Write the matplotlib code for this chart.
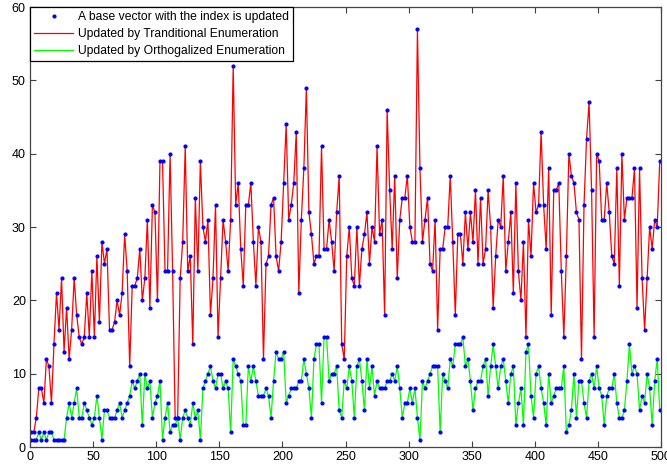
import numpy as np
import matplotlib
matplotlib.use("Agg")
import matplotlib.pyplot as plt
from matplotlib.lines import Line2D

plt.rcParams['font.family'] = ['Liberation Sans', 'DejaVu Sans']

# number of updates per step (x = 1, 3, 5, ..., 499)
traditional = [
    2, 2, 4, 8, 8, 6, 12, 11, 6, 14, 21, 16, 23, 13, 19, 12, 16, 23, 18, 15,
    14, 15, 21, 15, 24, 15, 26, 17, 28, 25, 27, 16,
    16, 17, 20, 18, 21, 29, 24, 11, 22, 22, 23, 27, 20, 23, 31, 19, 33, 32,
    20, 39, 39, 24, 24, 40, 24, 4, 4, 23, 28, 41, 24,
    26, 14, 34, 24, 39, 30, 28, 31, 18, 23, 33, 15, 23, 31, 28, 24, 31, 52,
    33, 36, 27, 22, 33, 33, 36, 28, 22, 30, 28, 12, 25,
    26, 33, 34, 26, 24, 28, 36, 44, 31, 33, 36, 43, 21, 31, 38, 49, 32, 29,
    25, 26, 26, 41, 27, 27, 31, 28, 24, 32, 37, 14, 12,
    26, 30, 23, 22, 30, 22, 27, 29, 32, 25, 30, 28, 41, 29, 31, 18, 46, 35,
    27, 37, 23, 31, 34, 34, 37, 30, 28, 28, 57, 38, 28,
    31, 34, 25, 24, 31, 16, 27, 27, 30, 30, 37, 28, 18, 29, 29, 25, 32, 27,
    32, 28, 35, 25, 34, 25, 27, 35, 30, 19, 26, 31, 30,
    37, 24, 28, 32, 21, 36, 24, 20, 28, 15, 31, 26, 36, 32, 33, 43, 33, 27,
    38, 18, 35, 35, 36, 24, 15, 26, 40, 37, 36, 32, 31,
    12, 33, 42, 47, 35, 15, 40, 39, 31, 31, 36, 32, 26, 25, 38, 22, 40, 31,
    34, 34, 34, 38, 19, 38, 23, 16, 23, 30, 27, 31, 30, 39,
]
orthogonal = [
    1, 1, 1, 2, 1, 2, 1, 2, 2, 1, 1, 1, 1, 1, 4, 6, 4, 6, 8, 4,
    4, 6, 5, 4, 3, 4, 7, 4, 1, 5, 5, 4,
    4, 4, 5, 6, 4, 5, 6, 7, 9, 8, 9, 10, 3, 10, 8, 9, 4, 6, 7, 9,
    1, 4, 6, 2, 3, 3, 4, 1, 4, 5, 4,
    3, 6, 4, 5, 1, 8, 9, 10, 11, 9, 8, 10, 10, 8, 9, 8, 2, 12, 11, 10,
    9, 3, 3, 11, 9, 11, 9, 7, 7, 7, 8,
    7, 4, 9, 13, 12, 12, 13, 6, 7, 8, 8, 8, 9, 9, 12, 10, 8, 4, 12, 14,
    14, 6, 15, 15, 9, 10, 10, 11, 5, 4, 9,
    8, 11, 9, 4, 11, 12, 9, 5, 12, 8, 11, 7, 9, 8, 8, 8, 9, 9, 10, 9,
    11, 8, 4, 6, 6, 8, 6, 8, 4, 1, 9,
    8, 9, 10, 11, 11, 11, 2, 10, 9, 8, 12, 11, 14, 14, 14, 15, 11, 12, 9, 5,
    8, 9, 9, 11, 12, 7, 11, 14, 11, 8, 11,
    12, 9, 6, 10, 11, 3, 6, 8, 3, 13, 14, 7, 4, 10, 11, 8, 6, 3, 10, 6,
    7, 8, 8, 8, 11, 2, 3, 5, 10, 4, 9,
    9, 6, 4, 9, 10, 8, 11, 8, 7, 3, 7, 8, 8, 10, 6, 4, 4, 5, 9, 14,
    10, 11, 10, 5, 7, 6, 10, 8, 3, 9, 12, 5,
]

x_ticks = [0, 50, 100, 150, 200, 250, 300, 350, 400, 450, 500]
y_ticks = [0, 10, 20, 30, 40, 50, 60]

labels = ["A base vector with the index is updated",
          "Updated by Tranditional Enumeration",
          "Updated by Orthogalized Enumeration"]

n = min(len(traditional), len(orthogonal))
x = np.arange(1, 2 * n, 2)
trad = np.array(traditional[:n])
orth = np.array(orthogonal[:n])

fig = plt.figure(figsize=(6.67, 4.68), dpi=100)
ax = fig.add_axes([30 / 667, 1 - 447 / 468, 631 / 667, 440 / 468])

ax.plot(x, trad, color='#ff0000', lw=0.9)
ax.plot(x, orth, color='#00ff00', lw=0.9)
ax.plot(x, trad, ls='none', marker='.', ms=4, color='#0000ff')
ax.plot(x, orth, ls='none', marker='.', ms=4, color='#0000ff')

ax.set_xlim(0, 500)
ax.set_ylim(0, 60)
ax.set_xticks(x_ticks)
ax.set_yticks(y_ticks)
ax.tick_params(direction='in', top=True, right=True, length=4, width=0.8,
               labelsize=9, color='#404040', pad=3)
for s in ax.spines.values():
    s.set_color('#444444')
    s.set_linewidth(0.9)

handles = [Line2D([], [], ls='none', marker='.', ms=4, color='#0000ff'),
           Line2D([], [], color='#ff0000', lw=0.9),
           Line2D([], [], color='#00ff00', lw=0.9)]
leg = ax.legend(handles, labels, loc='upper left', bbox_to_anchor=(0, 1),
                borderaxespad=0, fancybox=False, framealpha=1, fontsize=8.7,
                handlelength=3.2, handletextpad=0.4, labelspacing=0.4,
                borderpad=0.35)
leg.get_frame().set_edgecolor('black')
leg.get_frame().set_linewidth(0.9)

fig.savefig('out.png', dpi=100)
